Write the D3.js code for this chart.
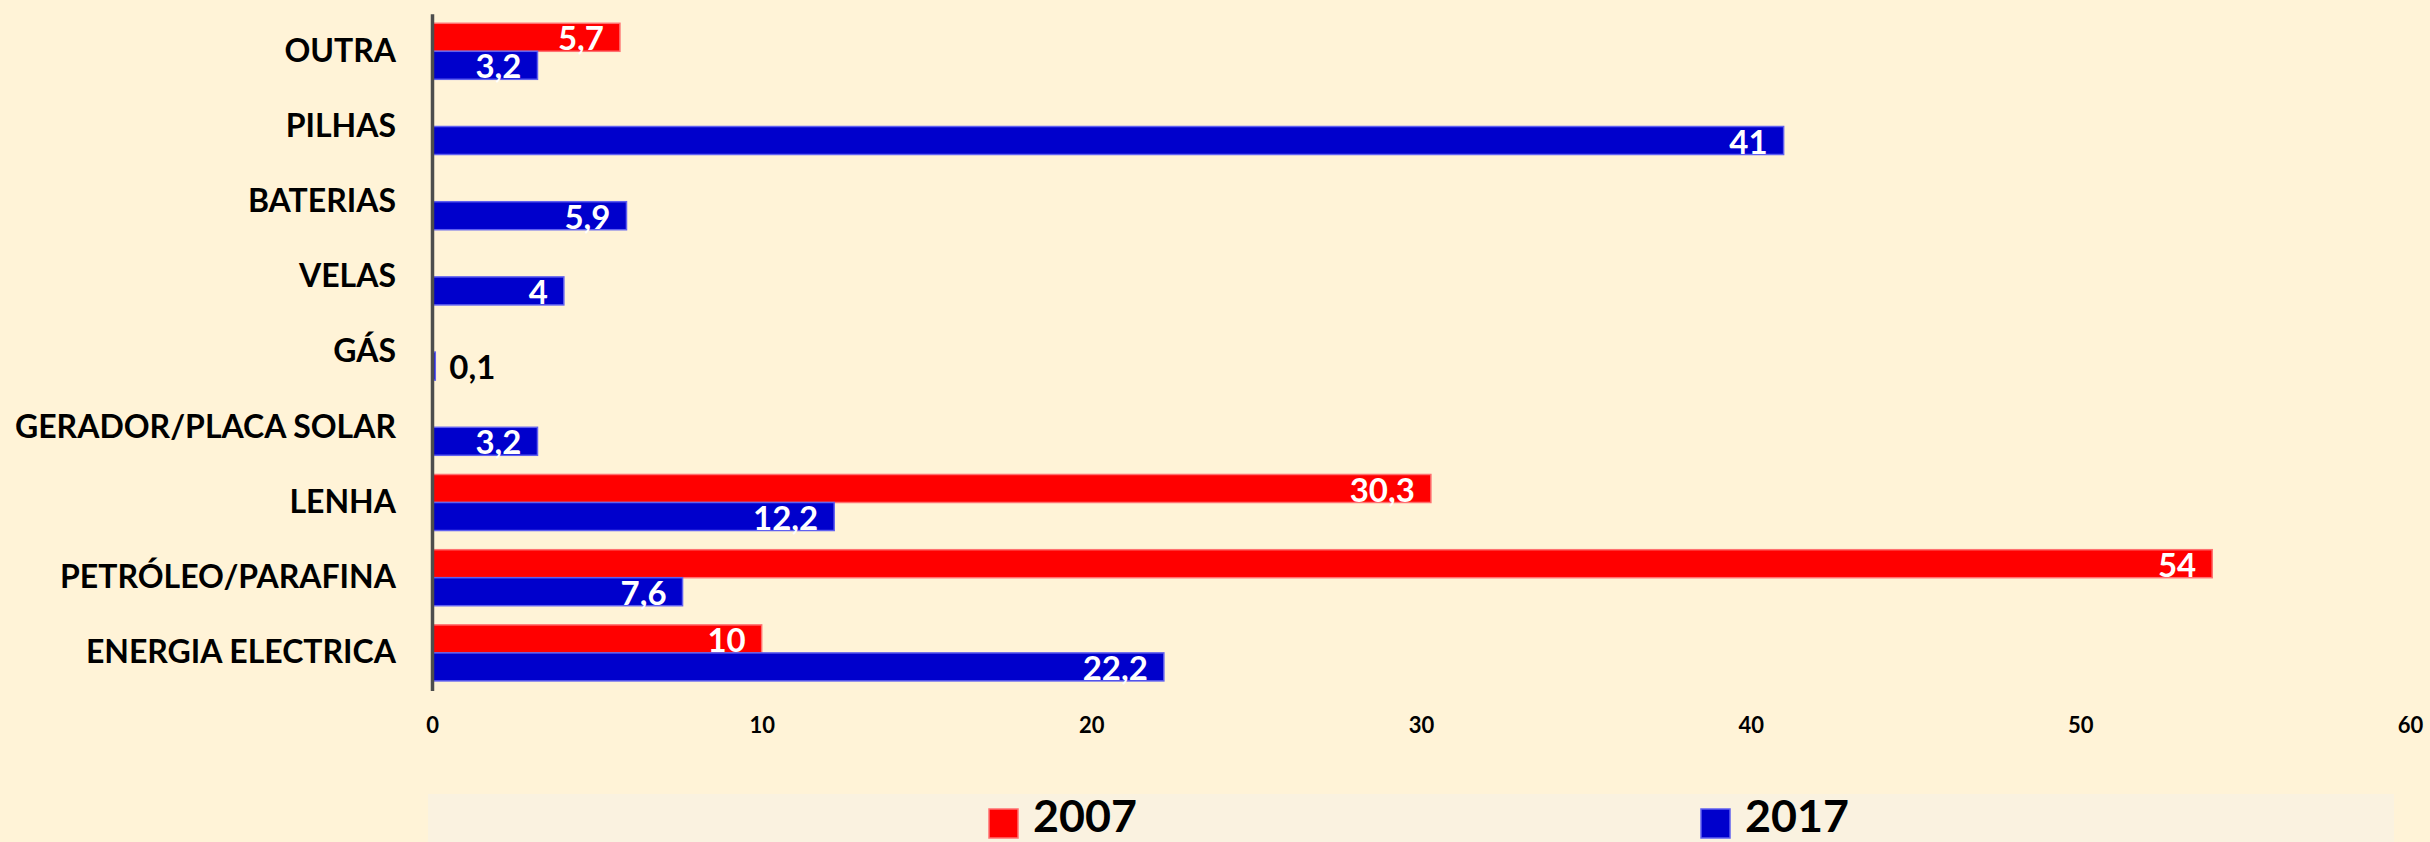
<!DOCTYPE html>
<html>
<head>
<meta charset="utf-8">
<script src="https://cdn.jsdelivr.net/npm/d3@7"></script>
<style>
  html, body { margin: 0; padding: 0; background: #FFF3D7; }
  svg { display: block; }
  text { font-family: Lato, "Open Sans", sans-serif; font-weight: 700; }
</style>
</head>
<body>
<svg id="chart" width="2430" height="842"></svg>
<script>
// Energy sources used for lighting, share of households (%)
const categories = [
  "OUTRA", "PILHAS", "BATERIAS", "VELAS", "GÁS",
  "GERADOR/PLACA SOLAR", "LENHA", "PETRÓLEO/PARAFINA", "ENERGIA ELECTRICA"
];
const seriesNames = ["2007", "2017"];
const values2007 = [5.7, null, null, null, null, null, 30.3, 54, 10];
const values2017 = [3.2, 41, 5.9, 4, 0.1, 3.2, 12.2, 7.6, 22.2];
const xTicks = [0, 10, 20, 30, 40, 50, 60];

const colors = { "2007": "#FF0000", "2017": "#0000CC" };
const strokes = { "2007": "#FF7070", "2017": "#6060F0" };

const W = 2430, H = 842;
const svg = d3.select("#chart");

svg.append("rect").attr("width", W).attr("height", H).attr("fill", "#FFF3D7");

const x = d3.scaleLinear().domain([0, 60]).range([432, 2410]);
const y = d3.scaleBand().domain(categories).range([13.7, 690.5])
  .paddingInner(0.255).paddingOuter(0.1275);
const inner = d3.scaleBand().domain(seriesNames).range([0, y.bandwidth()]);

const pt = d3.formatLocale({ decimal: ",", thousands: ".", grouping: [3], currency: ["", ""] });
const fmt = pt.format("~g");

const rows = [];
categories.forEach((c, i) => {
  [["2007", values2007[i]], ["2017", values2017[i]]].forEach(([s, v]) => {
    if (v != null) rows.push({ cat: c, series: s, value: v });
  });
});

// bars
svg.append("g").selectAll("rect").data(rows).join("rect")
  .attr("x", x(0))
  .attr("y", d => y(d.cat) + inner(d.series))
  .attr("width", d => x(d.value) - x(0))
  .attr("height", inner.bandwidth())
  .attr("fill", d => colors[d.series])
  .attr("stroke", d => strokes[d.series])
  .attr("stroke-width", 1.5);

// value labels: inside end when the bar is wide enough, otherwise just outside
const inside = d => x(d.value) - x(0) > 45;
svg.append("g").selectAll("text").data(rows).join("text")
  .attr("x", d => inside(d) ? x(d.value) - 16 : x(d.value) + 14)
  .attr("y", d => y(d.cat) + inner(d.series) + inner.bandwidth() - 1)
  .attr("text-anchor", d => inside(d) ? "end" : "start")
  .attr("fill", d => inside(d) ? "#FFFFFF" : "#000000")
  .style("font-size", "33px")
  .text(d => fmt(d.value));

// category axis
const yAxis = svg.append("g")
  .attr("transform", `translate(${x(0)},0)`)
  .call(d3.axisLeft(y).tickSize(0).tickSizeOuter(0).tickPadding(36));
yAxis.select(".domain").attr("stroke", "#4D4D4D").attr("stroke-width", 3.5);
yAxis.selectAll("text")
  .style("font-size", "32px")
  .attr("fill", "#000");

// value axis (labels only)
const xAxis = svg.append("g")
  .attr("transform", "translate(0,700)")
  .call(d3.axisBottom(x).tickValues(xTicks).tickSize(0).tickSizeOuter(0));
xAxis.select(".domain").remove();
xAxis.selectAll("text")
  .attr("y", 33).attr("dy", null)
  .style("font-size", "22px")
  .attr("fill", "#000");

// legend
const legend = svg.append("g");
legend.append("rect")
  .attr("x", 428).attr("y", 794).attr("width", 1966).attr("height", 60)
  .attr("fill", "#FAF2E0");
const legendX = { "2007": 989, "2017": 1701 };
seriesNames.forEach(s => {
  legend.append("rect")
    .attr("x", legendX[s]).attr("y", 809).attr("width", 29).attr("height", 29)
    .attr("fill", colors[s]).attr("stroke", strokes[s]).attr("stroke-width", 1.5);
  legend.append("text")
    .attr("transform", `translate(${legendX[s] + 44},832) scale(1.12,1.1)`)
    .style("font-size", "40px")
    .attr("fill", "#000")
    .text(s);
});
</script>
</body>
</html>
